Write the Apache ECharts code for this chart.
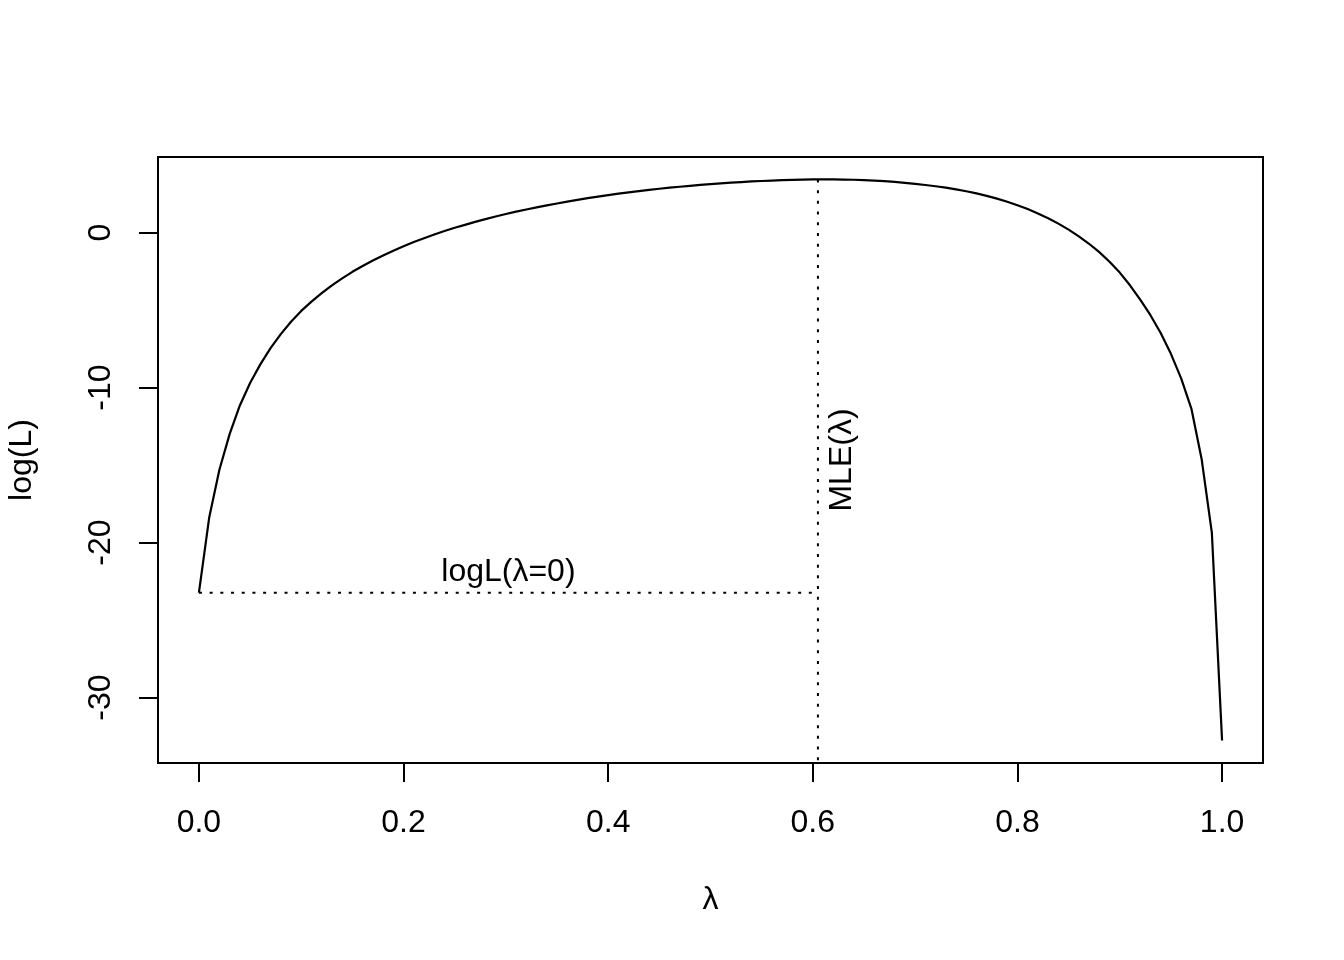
<!DOCTYPE html>
<html>
<head>
<meta charset="utf-8">
<script src="https://cdn.jsdelivr.net/npm/echarts@6/dist/echarts.min.js"></script>
<style>
html,body{margin:0;padding:0;background:#fff;}
#chart{width:1344px;height:960px;}
</style>
</head>
<body>
<div id="chart"></div>
<script>
// ---- data ----
const lambda = [0.00,0.01,0.02,0.03,0.04,0.05,0.06,0.07,0.08,0.09,
  0.10,0.11,0.12,0.13,0.14,0.15,0.16,0.17,0.18,0.19,
  0.20,0.21,0.22,0.23,0.24,0.25,0.26,0.27,0.28,0.29,
  0.30,0.31,0.32,0.33,0.34,0.35,0.36,0.37,0.38,0.39,
  0.40,0.41,0.42,0.43,0.44,0.45,0.46,0.47,0.48,0.49,
  0.50,0.51,0.52,0.53,0.54,0.55,0.56,0.57,0.58,0.59,
  0.60,0.61,0.62,0.63,0.64,0.65,0.66,0.67,0.68,0.69,
  0.70,0.71,0.72,0.73,0.74,0.75,0.76,0.77,0.78,0.79,
  0.80,0.81,0.82,0.83,0.84,0.85,0.86,0.87,0.88,0.89,
  0.90,0.91,0.92,0.93,0.94,0.95,0.96,0.97,0.98,0.99,1.00];
const logL = [-23.23,-18.4,-15.3,-13.0,-11.15,-9.7,-8.5,-7.45,-6.55,-5.75,
  -5.05,-4.45,-3.9,-3.4,-2.95,-2.53,-2.15,-1.8,-1.47,-1.17,
  -0.88,-0.61,-0.36,-0.12,0.1,0.31,0.5,0.69,0.87,1.04,
  1.2,1.35,1.49,1.63,1.76,1.88,2.0,2.11,2.22,2.32,
  2.42,2.51,2.6,2.68,2.76,2.83,2.9,2.96,3.02,3.08,
  3.13,3.18,3.22,3.26,3.3,3.33,3.36,3.38,3.4,3.42,
  3.43,3.43,3.43,3.42,3.41,3.39,3.36,3.32,3.27,3.21,
  3.14,3.07,2.99,2.9,2.79,2.67,2.53,2.37,2.19,1.99,
  1.77,1.52,1.24,0.93,0.58,0.19,-0.24,-0.72,-1.26,-1.88,
  -2.58,-3.4,-4.33,-5.33,-6.48,-7.82,-9.4,-11.35,-14.6,-19.35,-32.77];
const mleLambda = 0.605;
const logL0 = -23.23;
const xTicks = [0, 0.2, 0.4, 0.6, 0.8, 1.0];
const xTickLabels = ['0.0','0.2','0.4','0.6','0.8','1.0'];
const yTicks = [-30, -20, -10, 0];
const yTickLabels = ['-30','-20','-10','0'];
const labelLogL0 = 'logL(\u03bb=0)';
const labelMLE = 'MLE(\u03bb)';
const xTitle = '\u03bb';
const yTitle = 'log(L)';

// ---- derived (R-style 4% axis extension) ----
const xMinD = Math.min(...lambda), xMaxD = Math.max(...lambda);
const yMinD = Math.min(...logL), yMaxD = Math.max(...logL);
const xPad = (xMaxD - xMinD) * 0.04, yPad = (yMaxD - yMinD) * 0.04;
const xMin = xMinD - xPad, xMax = xMaxD + xPad;
const yMin = yMinD - yPad, yMax = yMaxD + yPad;

const FONT = "'Liberation Sans', Arial, Helvetica, sans-serif";
const curve = lambda.map((l, i) => [l, logL[i]]);

const chart = echarts.init(document.getElementById('chart'), null, {renderer: 'canvas'});
chart.setOption({
  animation: false,
  backgroundColor: '#fff',
  grid: {left: 158, right: 81, top: 157, bottom: 197, show: true,
         borderColor: '#000', borderWidth: 2, backgroundColor: 'transparent',
         containLabel: false, outerBoundsMode: 'none'},
  xAxis: {
    type: 'value', min: xMin, max: xMax,
    axisLine: {show: false, onZero: false},
    splitLine: {show: false},
    axisTick: {show: true, customValues: xTicks, length: 19, lineStyle: {color: '#000', width: 2}},
    axisLabel: {show: true, customValues: xTicks, margin: 44, fontSize: 32, color: '#000', fontFamily: FONT,
      formatter: v => { const i = xTicks.findIndex(t => Math.abs(t - v) < 1e-9); return i >= 0 ? xTickLabels[i] : ''; }},
    name: xTitle, nameLocation: 'middle', nameGap: 121,
    nameTextStyle: {fontSize: 32, color: '#000', fontFamily: FONT}
  },
  yAxis: {
    type: 'value', min: yMin, max: yMax,
    axisLine: {show: false, onZero: false},
    splitLine: {show: false},
    axisTick: {show: true, customValues: yTicks, length: 19, lineStyle: {color: '#000', width: 2}},
    axisLabel: {show: true, customValues: yTicks, rotate: 90, margin: 41, fontSize: 32, color: '#000', fontFamily: FONT,
      formatter: v => { const i = yTicks.findIndex(t => Math.abs(t - v) < 1e-9); return i >= 0 ? yTickLabels[i] : ''; }},
    name: yTitle, nameLocation: 'middle', nameGap: 120, nameRotate: 90,
    nameTextStyle: {fontSize: 32, color: '#000', fontFamily: FONT}
  },
  series: [
    {type: 'line', data: curve, showSymbol: false, symbol: 'none', silent: true,
     lineStyle: {color: '#000', width: 2.2}},
    {type: 'line', data: [[0, logL0], [mleLambda, logL0]], showSymbol: false, symbol: 'none', silent: true,
     lineStyle: {color: '#000', width: 2, type: [3, 7.7]}},
    {type: 'line', data: [[mleLambda, yMaxD], [mleLambda, yMin]], showSymbol: false, symbol: 'none', silent: true,
     lineStyle: {color: '#000', width: 2, type: [3, 7.7]}},
    {type: 'scatter', data: [[mleLambda / 2, logL0]], symbolSize: 0, itemStyle: {color: '#000', opacity: 1}, silent: true,
     label: {show: true, formatter: labelLogL0, position: 'top', distance: 5, opacity: 1,
             fontSize: 32, color: '#000', fontFamily: FONT}},
    {type: 'scatter', data: [[mleLambda, (yMaxD + yMinD) / 2]], symbolSize: 0, itemStyle: {color: '#000', opacity: 1}, silent: true,
     label: {show: true, formatter: labelMLE, position: 'right', distance: 24, rotate: 90, opacity: 1,
             align: 'center', verticalAlign: 'middle',
             fontSize: 32, color: '#000', fontFamily: FONT}}
  ]
});
</script>
</body>
</html>
